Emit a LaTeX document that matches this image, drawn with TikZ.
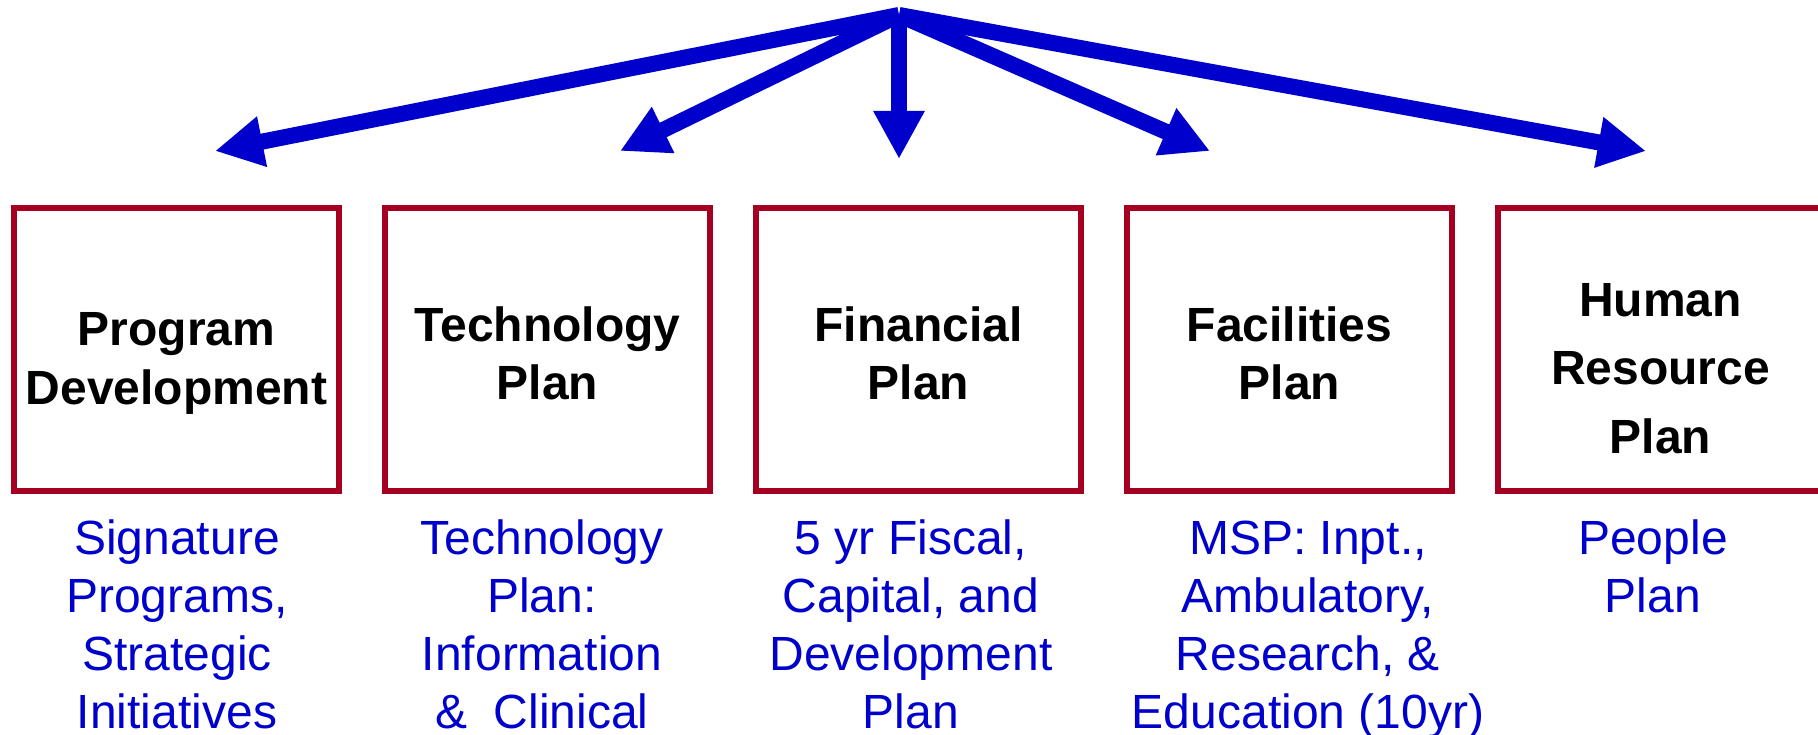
\documentclass[tikz,border=0pt]{standalone}
\usepackage{fontspec}
\setmainfont{Liberation Sans}
\usetikzlibrary{arrows.meta}
\definecolor{boxred}{RGB}{165,0,33}
\definecolor{arrblue}{RGB}{0,0,204}
\begin{document}
\begin{tikzpicture}[x=1pt,y=-1pt,
  planbox/.style={draw=boxred, line width=6pt, minimum width=325pt, minimum height=283pt, inner sep=0pt},
  boxtext/.style={font=\bfseries\fontsize{48}{58}\selectfont, align=center, anchor=base, inner sep=0pt},
  desc/.style={text=arrblue, font=\fontsize{48}{58}\selectfont, align=center, anchor=base, inner sep=0pt},
  spoke/.style={draw=arrblue, line width=16pt, -{Triangle[length=48pt,width=48pt]}}]
\useasboundingbox (0,0) rectangle (1818,735);
% boxes
\node[planbox] (b1) at (176.5,349.5) {};
\node[planbox] (b2) at (547.5,349.5) {};
\node[planbox] (b3) at (918.5,349.5) {};
\node[planbox] (b4) at (1289.5,349.5) {};
\node[planbox] (b5) at (1660.5,349.5) {};
% box titles (anchor = baseline of last line)
\node[boxtext, font=\bfseries\fontsize{48}{59}\selectfont] (t1) at (176.5,404.5) {Program\\Development};
\node[boxtext] (t2) at (547.5,399) {Technology\\Plan};
\node[boxtext] (t3) at (918.5,399) {Financial\\Plan};
\node[boxtext] (t4) at (1289.5,399) {Facilities\\Plan};
\node[boxtext, font=\bfseries\fontsize{48}{68.5}\selectfont] (t5) at (1660.5,453) {Human\\Resource\\Plan};
% descriptions
\node[desc] (d1) at (177,728) {Signature\\Programs,\\Strategic\\Initiatives};
\node[desc] (d2) at (542,728) {Technology\\Plan:\\Information\\\&~~Clinical};
\node[desc] (d3) at (911,728) {5 yr Fiscal,\\Capital, and\\Development\\Plan};
\node[desc] (d4) at (1308,728) {MSP: Inpt.,\\Ambulatory,\\Research, \&\\Education (10yr)};
\node[desc] (d5) at (1653,612) {People\\Plan};
% arrows
\coordinate (top) at (899,15);
\coordinate (h1) at (215,151);
\coordinate (h2) at (620,151);
\coordinate (h3) at (899,159);
\coordinate (h4) at (1210,151);
\coordinate (h5) at (1646,151);
\draw[spoke] (top) -- (h1);
\draw[spoke] (top) -- (h2);
\draw[spoke] (top) -- (h3);
\draw[spoke] (top) -- (h4);
\draw[spoke] (top) -- (h5);
\end{tikzpicture}
\end{document}
